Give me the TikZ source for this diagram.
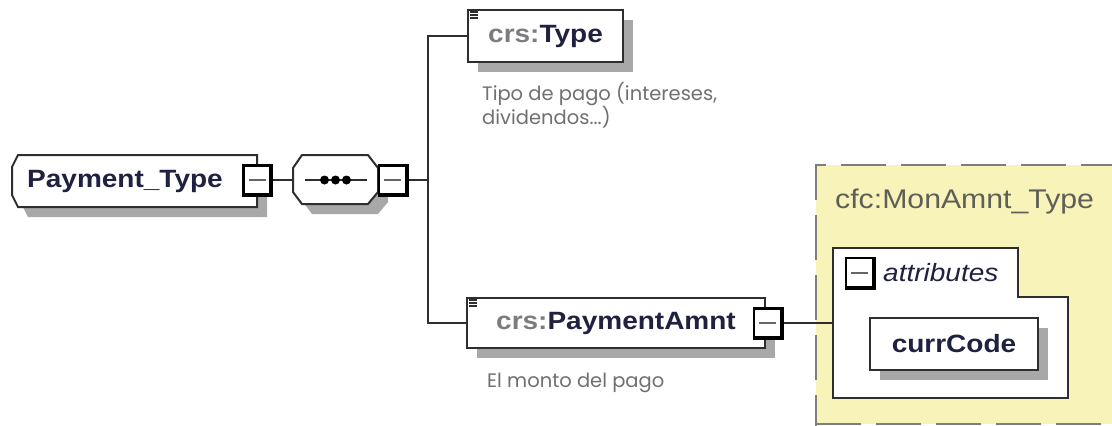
\documentclass[tikz,border=0pt]{standalone}
\usepackage{fontspec}
\setmainfont[FakeStretch=1.12]{Liberation Sans}
\newfontfamily\descfont{Poppins}
\usepackage{tikz}
\usepackage{xcolor}
\usetikzlibrary{shadows}
\usetikzlibrary{positioning}

\definecolor{boxline}{HTML}{2E2E2E}
\definecolor{boxshade}{HTML}{A8A8A8}
\definecolor{elemtext}{HTML}{1E2140}
\definecolor{prefixgray}{HTML}{7C7C80}
\definecolor{descgray}{HTML}{707070}
\definecolor{typeyellow}{HTML}{F7F3B9}
\definecolor{dashgray}{HTML}{7E7E7E}
\definecolor{typegray}{HTML}{5E5F58}

\newcommand{\xmlprefix}[1]{{\color{prefixgray}#1}}

\tikzset{
    boxshadow/.style={drop shadow={shadow xshift=10pt, shadow yshift=-10pt, fill=boxshade, opacity=1}},
    boxfont/.style={font=\fontsize{25}{30}\selectfont\bfseries, text=elemtext},
    elem/.style={draw=boxline, line width=2pt, fill=white, inner sep=0pt, boxshadow, boxfont},
    minusbox/.style={draw=black, line width=2.2pt, fill=white, minimum width=27pt,
        minimum height=29pt, inner sep=0pt,
        path picture={\draw[line width=2pt, black!60] ([xshift=5pt]path picture bounding box.west) -- ([xshift=-5pt]path picture bounding box.east);}},
    desc/.style={font=\descfont\fontsize{19.5}{24}\selectfont, text=descgray, align=left, inner sep=0pt},
    wire/.style={line width=2.2pt, boxline}
}

\begin{document}
\begin{tikzpicture}[x=1pt,y=-1pt]
    \useasboundingbox (0,0) rectangle (1112,426);
    \clip (0,0) rectangle (1112,426);
    \fill[white] (0,0) rectangle (1112,426);
    \fill[typeyellow] (816,165) rectangle (1130,424);
    \draw[dashgray, line width=2pt, dash pattern=on 45pt off 15pt] (816,440) |- (1130,165);
    \draw[dashgray, line width=2pt, dash pattern=on 45pt off 15pt] (816,424) -- (1130,424);

    \fill[boxshade, xshift=10pt, yshift=-10pt] (18,155) -- (257,155) -- (257,207) -- (18,207) -- (12,195) -- (12,167) -- cycle;
    \filldraw[fill=white, draw=boxline, line width=2pt] (18,155) -- (257,155) -- (257,207) -- (18,207) -- (12,195) -- (12,167) -- cycle;
    \node[boxfont, anchor=west, inner sep=0pt] (pt) at (27,181) {Payment\_Type};
    \node[minusbox] (ptm) at (257,180) {};

    \fill[boxshade, xshift=10pt, yshift=-10pt] (302,155) -- (368,155) -- (378,168) -- (378,192) -- (368,204) -- (302,204) -- (293,192) -- (293,168) -- cycle;
    \filldraw[fill=white, draw=boxline, line width=2pt] (302,155) -- (368,155) -- (378,168) -- (378,192) -- (368,204) -- (302,204) -- (293,192) -- (293,168) -- cycle;
    \node[minimum width=85pt, minimum height=49pt, inner sep=0pt] (seq) at (335.5,180) {};
    \draw[wire] ([xshift=12pt]seq.west) -- ([xshift=-11pt]seq.east);
    \foreach \d in {-11,0,11}
        \fill[black] ([xshift=\d pt]seq.center) circle (4.5pt);
    \node[minusbox] (seqm) at (392.5,180) {};

    \node[elem, minimum width=155pt, minimum height=52pt] (type) at (545.5,36) {\xmlprefix{crs:}Type};
    \node[elem, minimum width=298pt, minimum height=50pt] (amnt) at (616,323) {\xmlprefix{crs:}PaymentAmnt\hspace{12pt}};
    \node[minusbox] (amntm) at (767.5,323) {};
    \foreach \e in {type,amnt}
        \foreach \k in {3,6,9}
            \draw[line width=1.2pt, boxline] ([shift={(3pt,-\k pt)}]\e.north west) -- ++(8pt,0);

    \node[desc, anchor=north west] (typedesc) at (482,82) {Tipo de pago (intereses,\\dividendos...)};
    \node[desc, anchor=north west] (amntdesc) at (487,373) {El monto del pago};

    \coordinate (fork) at (428,180);
    \draw[wire] (ptm.east) -- (seq.west);
    \draw[wire] (seqm.east) -- (fork);
    \draw[wire] (fork) |- (type.west);
    \draw[wire] (fork) |- (amnt.west);

    \node[anchor=west, inner sep=0pt, text=typegray, font=\fontsize{27}{32}\selectfont] (typename) at (835,202) {cfc:MonAmnt\_Type};
    \node[minimum width=235pt, minimum height=150pt, inner sep=0pt] (attr) at (950.5,323) {};
    \draw[line width=2pt, boxline, fill=white] (attr.north west) -- ++(185pt,0) -- ++(0,-49pt) -| (attr.south east) -- (attr.south west) -- cycle;
    \draw[wire] (amntm.east) -- (attr.west);
    \node[minusbox] (attrm) at (859.5,272.5) {};
    \node[anchor=west, inner sep=0pt, text=elemtext, font=\fontsize{25}{30}\selectfont\itshape] (attrlabel) at (883,273) {attributes};
    \node[elem, minimum width=168pt, minimum height=52pt] (code) at (954,344) {currCode};

    \foreach \m in {ptm,seqm,amntm,attrm}
        \draw[line width=3.5pt, black] (\m.south west) -| (\m.north east);
\end{tikzpicture}
\end{document}
